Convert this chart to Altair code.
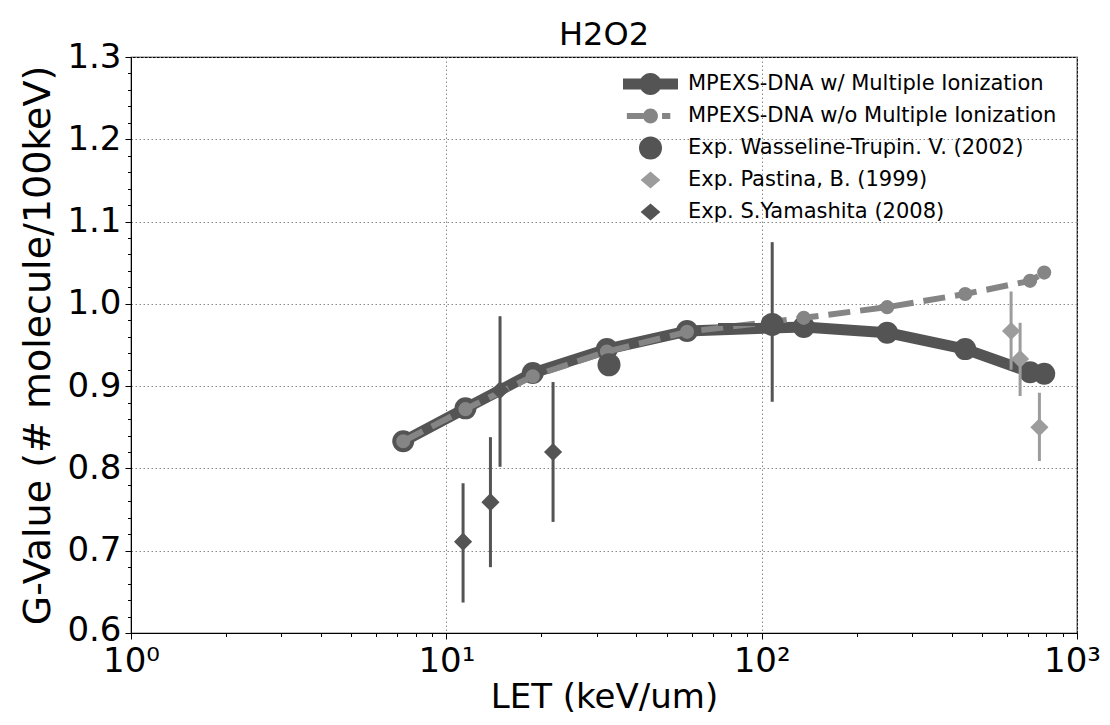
import altair as alt
import pandas as pd

# ---------------- data ----------------
let_sim = [7.3, 11.5, 18.8, 32.3, 58, 136, 250, 442, 710, 787]
g_with = [0.833, 0.873, 0.916, 0.945, 0.967, 0.972, 0.965, 0.945, 0.917, 0.915]
g_without = [0.833, 0.872, 0.912, 0.942, 0.966, 0.983, 0.996, 1.012, 1.028, 1.038]

was_let = [32.8, 108]
was_g = [0.926, 0.975]
was_err_let = [108]
was_err_g = [0.975]
was_err_xlo = [72.7]
was_err_xhi = [128]
was_err_ylo = [0.881]
was_err_yhi = [1.075]

pas_let = [618, 660, 760]
pas_g = [0.967, 0.933, 0.850]
pas_lo = [0.920, 0.888, 0.809]
pas_hi = [1.015, 0.977, 0.892]

yam_let = [11.3, 13.8, 14.8, 21.8]
yam_g = [0.711, 0.759, 0.895, 0.820]
yam_lo = [0.637, 0.680, 0.802, 0.735]
yam_hi = [0.782, 0.838, 0.985, 0.905]

legend_labels = [
    "MPEXS-DNA w/ Multiple Ionization",
    "MPEXS-DNA w/o Multiple Ionization",
    "Exp. Wasseline-Trupin. V. (2002)",
    "Exp. Pastina, B. (1999)",
    "Exp. S.Yamashita (2008)",
]

x_ticks = [1, 2, 3, 4, 5, 6, 7, 8, 9,
           10, 20, 30, 40, 50, 60, 70, 80, 90,
           100, 200, 300, 400, 500, 600, 700, 800, 900, 1000]
y_ticks = [0.6, 0.62, 0.64, 0.66, 0.68, 0.7, 0.72, 0.74, 0.76, 0.78,
           0.8, 0.82, 0.84, 0.86, 0.88, 0.9, 0.92, 0.94, 0.96, 0.98,
           1.0, 1.02, 1.04, 1.06, 1.08, 1.1, 1.12, 1.14, 1.16, 1.18,
           1.2, 1.22, 1.24, 1.26, 1.28, 1.3]

# ---------------- styles ----------------
DARK = "#545454"
GRAY = "#858585"
LIGHT = "#9c9c9c"
FONT = "DejaVu Sans"

legend_colors = [DARK, GRAY, DARK, LIGHT, DARK]
legend_paths = [
    "M-1,-0.2 L1,-0.2 L1,0.2 L-1,0.2 Z M-0.4,0 A0.4,0.4 0 1,1 0.4,0 A0.4,0.4 0 1,1 -0.4,0 Z",
    "M-0.86,-0.11 L-0.26,-0.11 L-0.26,0.11 L-0.86,0.11 Z M0.42,-0.11 L0.72,-0.11 L0.72,0.11 L0.42,0.11 Z "
    "M-0.27,0 A0.27,0.27 0 1,1 0.27,0 A0.27,0.27 0 1,1 -0.27,0 Z",
    "M-0.42,0 A0.42,0.42 0 1,1 0.42,0 A0.42,0.42 0 1,1 -0.42,0 Z",
    "M0,-0.31 L0.36,0 L0,0.31 L-0.36,0 Z",
    "M0,-0.31 L0.36,0 L0,0.31 L-0.36,0 Z",
]

# ---------------- tables ----------------
sim = pd.DataFrame({"let": let_sim, "gw": g_with, "gwo": g_without})
was = pd.DataFrame({"let": was_let, "g": was_g})
was_err = pd.DataFrame({"let": was_err_let, "g": was_err_g, "xlo": was_err_xlo,
                        "xhi": was_err_xhi, "ylo": was_err_ylo, "yhi": was_err_yhi})
pas = pd.DataFrame({"let": pas_let, "g": pas_g, "lo": pas_lo, "hi": pas_hi})
yam = pd.DataFrame({"let": yam_let, "g": yam_g, "lo": yam_lo, "hi": yam_hi})
leg = pd.DataFrame({"series": legend_labels})

xs = alt.Scale(type="log", domain=[1, 1000], nice=False)
ys = alt.Scale(domain=[0.6, 1.3], nice=False, zero=False)

x_major_test = "abs(log(datum.value)/LN10 - round(log(datum.value)/LN10)) < 0.001"
y_major_test = "abs(datum.value*10 - round(datum.value*10)) < 0.01"

x_axis = alt.Axis(
    values=x_ticks,
    title="LET (keV/um)",
    labelExpr="datum.value == 1 ? '10⁰' : datum.value == 10 ? '10¹' : datum.value == 100 ? '10²' : datum.value == 1000 ? '10³' : ''",
    labelFontSize=34, labelFont=FONT, labelColor="black", labelPadding=5,
    labelOffset={"condition": {"test": "datum.value == 1000", "value": -5}, "value": 0},
    labelFlush=False, labelOverlap=False,
    titleFontSize=34, titleFont=FONT, titleFontWeight="normal", titleColor="black", titlePadding=2,
    tickColor="black", tickWidth=1,
    tickSize={"condition": {"test": x_major_test, "value": 6}, "value": 3.5},
    domainColor="black", domainWidth=1,
    grid=True, gridColor="#8a8a8a", gridDash=[1.5, 2.5], gridWidth=1,
    gridOpacity={"condition": {"test": x_major_test, "value": 1}, "value": 0},
)
y_axis = alt.Axis(
    values=y_ticks,
    title="G-Value (# molecule/100keV)",
    labelExpr="abs(datum.value*10 - round(datum.value*10)) < 0.01 ? format(datum.value, '.1f') : ''",
    labelFontSize=34, labelFont=FONT, labelColor="black", labelPadding=4,
    labelOffset={"condition": {"test": "datum.value < 0.61", "value": -3}, "value": 0},
    labelFlush=False, labelOverlap=False,
    titleFontSize=38, titleFont=FONT, titleFontWeight="normal", titleColor="black", titlePadding=9,
    tickColor="black", tickWidth=1,
    tickSize={"condition": {"test": y_major_test, "value": 6}, "value": 3.5},
    domainColor="black", domainWidth=1,
    grid=True, gridColor="#8a8a8a", gridDash=[1.5, 2.5], gridWidth=1,
    gridOpacity={"condition": {"test": y_major_test, "value": 1}, "value": 0},
)


def X(field):
    return alt.X(field, type="quantitative", scale=xs, axis=x_axis)


def Y(field):
    return alt.Y(field, type="quantitative", scale=ys, axis=y_axis)


# ---------------- layers ----------------
line_with = alt.Chart(sim).mark_line(color=DARK, strokeWidth=11, strokeJoin="round", strokeCap="round").encode(
    x=X("let"), y=Y("gw"))
pts_with = alt.Chart(sim).mark_circle(color=DARK, size=484, opacity=1).encode(
    x=X("let"), y=Y("gw"))
line_wo = alt.Chart(sim).mark_line(color=GRAY, strokeWidth=6, strokeDash=[22, 10]).encode(
    x=X("let"), y=Y("gwo"))
pts_wo = alt.Chart(sim).mark_circle(color=GRAY, size=200, opacity=1).encode(
    x=X("let"), y=Y("gwo"))
was_v = alt.Chart(was_err).mark_rule(color=DARK, strokeWidth=3).encode(
    x=X("let"), y=Y("ylo"), y2="yhi:Q")
was_h = alt.Chart(was_err).mark_rule(color=DARK, strokeWidth=3).encode(
    x=X("xlo"), x2="xhi:Q", y=Y("g"))
was_pts = alt.Chart(was).mark_circle(color=DARK, size=530, opacity=1).encode(
    x=X("let"), y=Y("g"))
pas_err = alt.Chart(pas).mark_rule(color=LIGHT, strokeWidth=3).encode(
    x=X("let"), y=Y("lo"), y2="hi:Q")
pas_pts = alt.Chart(pas).mark_point(shape="diamond", filled=True, color=LIGHT, size=330, opacity=1).encode(
    x=X("let"), y=Y("g"))
yam_err = alt.Chart(yam).mark_rule(color=DARK, strokeWidth=3).encode(
    x=X("let"), y=Y("lo"), y2="hi:Q")
yam_pts = alt.Chart(yam).mark_point(shape="diamond", filled=True, color=DARK, size=330, opacity=1).encode(
    x=X("let"), y=Y("g"))

legend_props = dict(
    title=None, orient="none", legendX=492, legendY=15, padding=0,
    symbolSize=3025, symbolOpacity=1, symbolStrokeWidth=0,
    symbolOffset=0, labelOffset=10, clipHeight=24, rowPadding=8,
    labelFont=FONT, labelFontSize=21, labelColor="black", labelLimit=800,
)
legend_layer = alt.Chart(leg).mark_point(filled=True, opacity=0, size=3025).encode(
    color=alt.Color("series:N", scale=alt.Scale(domain=legend_labels, range=legend_colors),
                    legend=alt.Legend(**legend_props)),
    shape=alt.Shape("series:N", scale=alt.Scale(domain=legend_labels, range=legend_paths),
                    legend=alt.Legend(**legend_props)),
)

chart = alt.layer(
    line_with, pts_with, line_wo, pts_wo,
    was_v, was_h, was_pts,
    pas_err, pas_pts,
    yam_err, yam_pts,
    legend_layer,
).properties(
    width=946,
    height=576,
    title=alt.TitleParams("H2O2", fontSize=32, fontWeight="normal", font=FONT, color="black",
                          frame="group", offset=-12),
    autosize=alt.AutoSizeParams(type="none"),
    padding={"left": 123, "top": 49, "right": 25, "bottom": 84},
).configure(
    font=FONT,
    view=alt.ViewConfig(stroke="black", strokeWidth=1.2),
)

chart.save("out.html", embed_options={"renderer": "svg", "actions": False})
